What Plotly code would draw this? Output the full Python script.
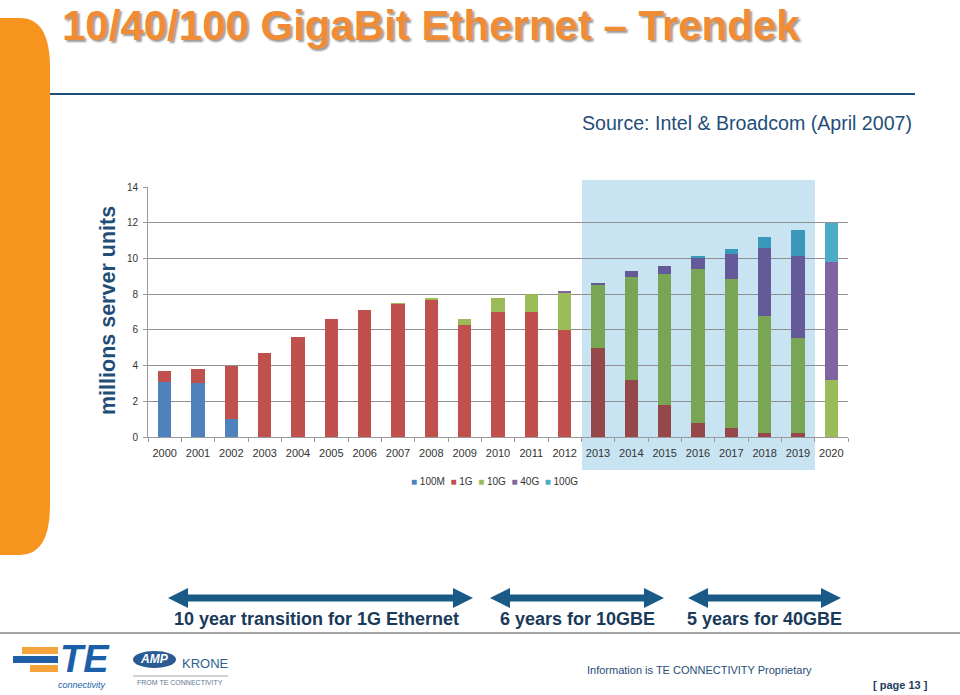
import plotly.graph_objects as go

years = [str(y) for y in range(2000, 2021)]
series_names = ["100M", "1G", "10G", "40G", "100G"]
v_100m = [3.1, 3.0, 1.0, 0, 0, 0, 0, 0, 0, 0, 0, 0, 0, 0, 0, 0, 0, 0, 0, 0, 0]
v_1g = [0.6, 0.8, 3.0, 4.7, 5.6, 6.6, 7.1, 7.45, 7.7, 6.3, 7.0, 7.0, 6.0, 5.0, 3.2, 1.8, 0.8, 0.5, 0.2, 0.2, 0]
v_10g = [0, 0, 0, 0, 0, 0, 0, 0.05, 0.1, 0.3, 0.8, 1.0, 2.1, 3.55, 5.75, 7.35, 8.6, 8.37, 6.6, 5.37, 3.2]
v_40g = [0, 0, 0, 0, 0, 0, 0, 0, 0, 0, 0, 0, 0.03, 0.1, 0.35, 0.45, 0.65, 1.4, 3.8, 4.57, 6.6]
v_100g = [0, 0, 0, 0, 0, 0, 0, 0, 0, 0, 0, 0, 0, 0, 0, 0, 0.05, 0.28, 0.58, 1.44, 2.2]
y_ticks = [0, 2, 4, 6, 8, 10, 12, 14]
shaded_years = ["2013", "2014", "2015", "2016", "2017", "2018", "2019"]

base_colors = ["#4F81BD", "#C0504D", "#9BBB59", "#8064A2", "#4BACC6"]
SHADE = (200, 227, 242)


def mult(hexc):
    h = hexc.lstrip("#")
    r, g, b = int(h[0:2], 16), int(h[2:4], 16), int(h[4:6], 16)
    return "rgb(%d,%d,%d)" % (r * SHADE[0] // 255, g * SHADE[1] // 255, b * SHADE[2] // 255)


W, H = 960, 695
OFF = 0  # body margin removed via post_script
L, R, T, B = 148, 848, 187, 437


def px(x):
    return (x - L) / (R - L)


def py(y):
    return (B - y) / (B - T)


def P(x, y):
    return "%.5f,%.5f" % (px(x), py(y))


fig = go.Figure()
for name, vals, col in zip(series_names, [v_100m, v_1g, v_10g, v_40g, v_100g], base_colors):
    cols = [mult(col) if yr in shaded_years else col for yr in years]
    fig.add_trace(go.Bar(x=years, y=vals, name=name, marker=dict(color=cols, line=dict(width=0)),
                         showlegend=False))

shapes = []
shapes.append(dict(type="rect", xref="paper", yref="paper", x0=px(582), x1=px(815), y0=py(470), y1=py(180),
                   fillcolor="rgb(200,227,242)", line=dict(width=0), layer="below"))
panel = "M " + P(-10, 18) + " L " + P(20, 18) + " Q " + P(50, 18) + " " + P(50, 68) + \
        " L " + P(50, 505) + " Q " + P(50, 555) + " " + P(20, 555) + " L " + P(-10, 555) + " Z"
shapes.append(dict(type="path", xref="paper", yref="paper", path=panel, fillcolor="#F7941D",
                   line=dict(width=0), layer="below"))
shapes.append(dict(type="line", xref="paper", yref="paper", x0=px(50), x1=px(915), y0=py(94), y1=py(94),
                   line=dict(color="#1F4E79", width=2)))
shapes.append(dict(type="line", xref="paper", yref="paper", x0=px(-10), x1=px(970), y0=py(633), y1=py(633),
                   line=dict(color="#A6A6A6", width=2)))


def darrow(x1, x2, yc):
    hl, hh, st = 20, 10, 3.5
    pts = [(x1, yc), (x1 + hl, yc - hh), (x1 + hl, yc - st), (x2 - hl, yc - st), (x2 - hl, yc - hh),
           (x2, yc), (x2 - hl, yc + hh), (x2 - hl, yc + st), (x1 + hl, yc + st), (x1 + hl, yc + hh)]
    return "M " + " L ".join(P(a, b) for a, b in pts) + " Z"


for a, b in [(168, 473), (490, 664), (688, 841)]:
    shapes.append(dict(type="path", xref="paper", yref="paper", path=darrow(a, b, 598),
                       fillcolor="#1B5A87", line=dict(width=0)))

shapes.append(dict(type="rect", xref="paper", yref="paper", x0=px(22), x1=px(58), y0=py(654), y1=py(647),
                   fillcolor="#F5A33B", line=dict(width=0)))
shapes.append(dict(type="rect", xref="paper", yref="paper", x0=px(13), x1=px(58), y0=py(663), y1=py(656),
                   fillcolor="#1F5FA8", line=dict(width=0)))
shapes.append(dict(type="rect", xref="paper", yref="paper", x0=px(30), x1=px(58), y0=py(672), y1=py(665),
                   fillcolor="#F5A33B", line=dict(width=0)))
shapes.append(dict(type="circle", xref="paper", yref="paper", x0=px(133), x1=px(176), y0=py(668), y1=py(651),
                   fillcolor="#2A5C93", line=dict(width=0)))
shapes.append(dict(type="line", xref="paper", yref="paper", x0=px(133), x1=px(228), y0=py(676), y1=py(676),
                   line=dict(color="#9FA8B3", width=1)))

ann = []
F = "Liberation Sans, Arial, sans-serif"
TF = "Liberation Sans Narrow, Arial Narrow, sans-serif"
ann.append(dict(text="<b>10/40/100 GigaBit Ethernet – Trendek</b>", x=px(60), y=py(0), xanchor="left",
                yanchor="top", font=dict(family=F, size=42, color="#F08C35", shadow="2px 2px 2px #9a9a9a")))
ann.append(dict(text="Source: Intel & Broadcom (April 2007)", x=px(914), y=py(123), xanchor="right",
                yanchor="middle", font=dict(family=F, size=19.6, color="#1F4E79")))
ann.append(dict(text="<b>millions server units</b>", x=px(108), y=py(311), xanchor="center",
                yanchor="middle", textangle=-90, font=dict(family=F, size=21.5, color="#1F4E79")))
for t, xc in [("10 year transition for 1G Ethernet", 316), ("6 years for 10GBE", 577),
              ("5 years for 40GBE", 764)]:
    ann.append(dict(text="<b>" + t + "</b>", x=px(xc), y=py(619), xanchor="center", yanchor="middle",
                    font=dict(family=F, size=18, color="#1A3A5A")))
ann.append(dict(text="Information is TE CONNECTIVITY Proprietary", x=px(585), y=py(670), xanchor="left",
                yanchor="middle", font=dict(family=F, size=11, color="#1F4E79")))
ann.append(dict(text="<b>[ page 13 ]</b>", x=px(930), y=py(685), xanchor="right", yanchor="middle",
                font=dict(family=F, size=11, color="#1F3B5E")))
ann.append(dict(text="<b><i>TE</i></b>", x=px(85), y=py(659), xanchor="center", yanchor="middle",
                font=dict(family=F, size=38, color="#1A5FA8")))
ann.append(dict(text="<i>connectivity</i>", x=px(82), y=py(685), xanchor="center", yanchor="middle",
                font=dict(family=F, size=9, color="#1A5FA8")))
ann.append(dict(text="<b><i>AMP</i></b>", x=px(154), y=py(659), xanchor="center", yanchor="middle",
                font=dict(family=F, size=12, color="white")))
ann.append(dict(text="KRONE", x=px(205), y=py(663), xanchor="center", yanchor="middle",
                font=dict(family=TF, size=13, color="#2F5F8F")))
ann.append(dict(text="FROM TE CONNECTIVITY", x=px(180), y=py(682), xanchor="center", yanchor="middle",
                font=dict(family=F, size=7, color="#5F7590")))
leg = "  ".join('<span style="color:%s">■</span> %s' % (c, n) for c, n in zip(base_colors, series_names))
ann.append(dict(text=leg, x=px(494), y=py(481), xanchor="center", yanchor="middle",
                font=dict(family=TF, size=10, color="#333")))
for a in ann:
    a.update(xref="paper", yref="paper", showarrow=False)

fig.update_layout(
    width=W, height=H, barmode="stack", bargap=0.6, showlegend=False,
    margin=dict(l=L - OFF, r=W - (R - OFF), t=T - OFF, b=H - (B - OFF), pad=0),
    paper_bgcolor="white", plot_bgcolor="rgba(0,0,0,0)",
    shapes=shapes, annotations=ann,
    xaxis=dict(type="category", categoryorder="array", categoryarray=years, range=[-0.5, 20.5],
               showline=True, linecolor="#9A9A9A", linewidth=1, ticks="outside", tickson="boundaries",
               ticklen=4, tickcolor="#9A9A9A", showgrid=False, tickangle=0, ticklabelstandoff=6,
               tickfont=dict(family=TF, size=11, color="#333")),
    yaxis=dict(range=[0, 14], tickvals=y_ticks, showline=True, linecolor="#9A9A9A", linewidth=1,
               ticks="outside", ticklen=4, tickcolor="#9A9A9A", gridcolor="#8F8F8F", gridwidth=1,
               zeroline=False, ticklabelstandoff=3, tickfont=dict(family=TF, size=10, color="#333")),
)
fig.write_html("out.html", config={"displayModeBar": False},
               post_script="document.body.style.margin='0px';")
